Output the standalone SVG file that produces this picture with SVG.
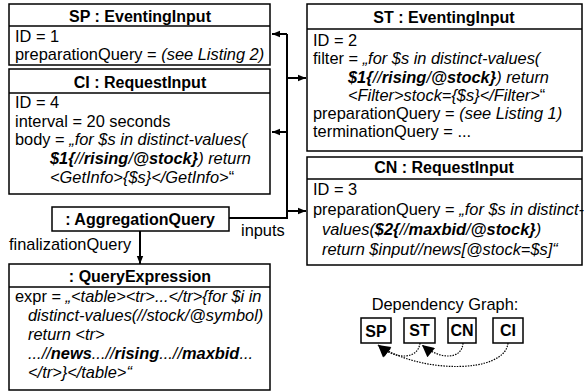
<svg xmlns="http://www.w3.org/2000/svg" width="584" height="392" viewBox="0 0 584 392">
<defs>
<style>
text{font-family:"Liberation Sans",Arial,sans-serif;font-size:16.4px;fill:#000}
.h{font-weight:bold;text-anchor:middle;font-size:16px}
.i{font-style:italic}
.b{font-weight:bold}
.box{fill:#fff;stroke:#000;stroke-width:1.5}
.ln{stroke:#000;stroke-width:1.5}
.con{fill:none;stroke:#000;stroke-width:2}
.dot{fill:none;stroke:#000;stroke-width:1.2;stroke-dasharray:1.5,1.2}
</style>
<marker id="ah" viewBox="0 0 10 10" refX="10" refY="5" markerWidth="10" markerHeight="8" markerUnits="userSpaceOnUse" orient="auto"><path d="M0,1 L10,5 L0,9 z" fill="#000"/></marker>
<marker id="dh" viewBox="0 0 10 10" refX="10" refY="5" markerWidth="14" markerHeight="12" markerUnits="userSpaceOnUse" orient="auto"><path d="M0,0 L10,5 L0,10 z" fill="#000"/></marker>
</defs>

<g id="connectors">
<path class="con" d="M229,218 H287 V34"/>
<path class="con" d="M287,34 H272" marker-end="url(#ah)"/>
<path class="con" d="M287,132 H272" marker-end="url(#ah)"/>
<path class="con" d="M287,78 H306" marker-end="url(#ah)"/>
<path class="con" d="M287,211 H306" marker-end="url(#ah)"/>
<path class="con" d="M140,231 V264" marker-end="url(#ah)"/>
<text x="241" y="236">inputs</text>
<text x="9" y="250">finalizationQuery</text>
<path class="dot" d="M420,343 C418,360 395,360 378,345" marker-end="url(#dh)"/>
<path class="dot" d="M463,343 C462,360 440,360 422,345" marker-end="url(#dh)"/>
<path class="dot" d="M508,343 C505,374 420,374 378,345" marker-end="url(#dh)"/>
</g>

<g id="SP">
<rect class="box" x="9" y="4" width="261" height="61"/>
<line class="ln" x1="9" y1="26" x2="270" y2="26"/>
<text class="h" x="140" y="22">SP : EventingInput</text>
<text x="15" y="42">ID = 1</text>
<text x="15" y="60">preparationQuery = <tspan class="i">(see Listing 2)</tspan></text>
</g>

<g id="CI">
<rect class="box" x="9" y="69" width="261" height="125"/>
<line class="ln" x1="9" y1="93" x2="270" y2="93"/>
<text class="h" x="140" y="88">CI : RequestInput</text>
<text x="15" y="108">ID = 4</text>
<text x="15" y="127">interval = 20 seconds</text>
<text x="15" y="145">body = <tspan class="i">„for $s in distinct-values(</tspan></text>
<text x="50" y="164" class="i"><tspan class="b">$1{</tspan>//<tspan class="b">rising</tspan>/<tspan class="b">@stock}</tspan>) return</text>
<text x="50" y="183"><tspan class="i">&lt;GetInfo&gt;{$s}&lt;/GetInfo&gt;</tspan>“</text>
</g>

<g id="AggregationQuery">
<rect class="box" x="52" y="207" width="177" height="24"/>
<text class="h" x="140" y="225">: AggregationQuery</text>
</g>

<g id="QueryExpression">
<rect class="box" x="9" y="264" width="261" height="126"/>
<line class="ln" x1="9" y1="287" x2="270" y2="287"/>
<text class="h" x="140" y="282">: QueryExpression</text>
<text x="15" y="302">expr = <tspan class="i">„&lt;table&gt;&lt;tr&gt;...&lt;/tr&gt;{for $i in</tspan></text>
<text x="28" y="321" class="i">distinct-values(//stock/@symbol)</text>
<text x="28" y="340" class="i">return &lt;tr&gt;</text>
<text x="28" y="359" class="i">...//<tspan class="b">news</tspan>...//<tspan class="b">rising</tspan>...//<tspan class="b">maxbid</tspan>...</text>
<text x="28" y="378" class="i">&lt;/tr&gt;}&lt;/table&gt;“</text>
</g>

<g id="ST">
<rect class="box" x="307" y="4" width="275" height="147"/>
<line class="ln" x1="307" y1="29" x2="582" y2="29"/>
<text class="h" x="444" y="23">ST : EventingInput</text>
<text x="313" y="46">ID = 2</text>
<text x="313" y="64">filter = <tspan class="i">„for $s in distinct-values(</tspan></text>
<text x="348" y="83" class="i"><tspan class="b">$1{</tspan>//<tspan class="b">rising</tspan>/<tspan class="b">@stock}</tspan>) return</text>
<text x="348" y="101"><tspan class="i">&lt;Filter&gt;stock={$s}&lt;/Filter&gt;</tspan>“</text>
<text x="313" y="119">preparationQuery = <tspan class="i">(see Listing 1)</tspan></text>
<text x="313" y="137">terminationQuery = ...</text>
</g>

<g id="CN">
<rect class="box" x="307" y="157" width="275" height="108"/>
<line class="ln" x1="307" y1="179" x2="582" y2="179"/>
<text class="h" x="444" y="173">CN : RequestInput</text>
<text x="313" y="195">ID = 3</text>
<text x="313" y="215">preparationQuery = <tspan class="i">„for $s in distinct-</tspan></text>
<text x="322" y="235" class="i">values(<tspan class="b">$2{</tspan>//<tspan class="b">maxbid</tspan>/<tspan class="b">@stock}</tspan>)</text>
<text x="322" y="255" class="i">return $input//news[@stock=$s]“</text>
</g>

<g id="DependencyGraph">
<text x="445" y="310" text-anchor="middle">Dependency Graph:</text>
</g>
<g id="dSP"><rect class="box" x="361" y="318" width="30" height="25"/><text class="h" x="376" y="337">SP</text></g>
<g id="dST"><rect class="box" x="404" y="318" width="31" height="25"/><text class="h" x="419.5" y="336">ST</text></g>
<g id="dCN"><rect class="box" x="448" y="318" width="28" height="25"/><text class="h" x="462" y="336">CN</text></g>
<g id="dCI"><rect class="box" x="493" y="318" width="30" height="25"/><text class="h" x="508" y="336">CI</text></g>
</svg>
